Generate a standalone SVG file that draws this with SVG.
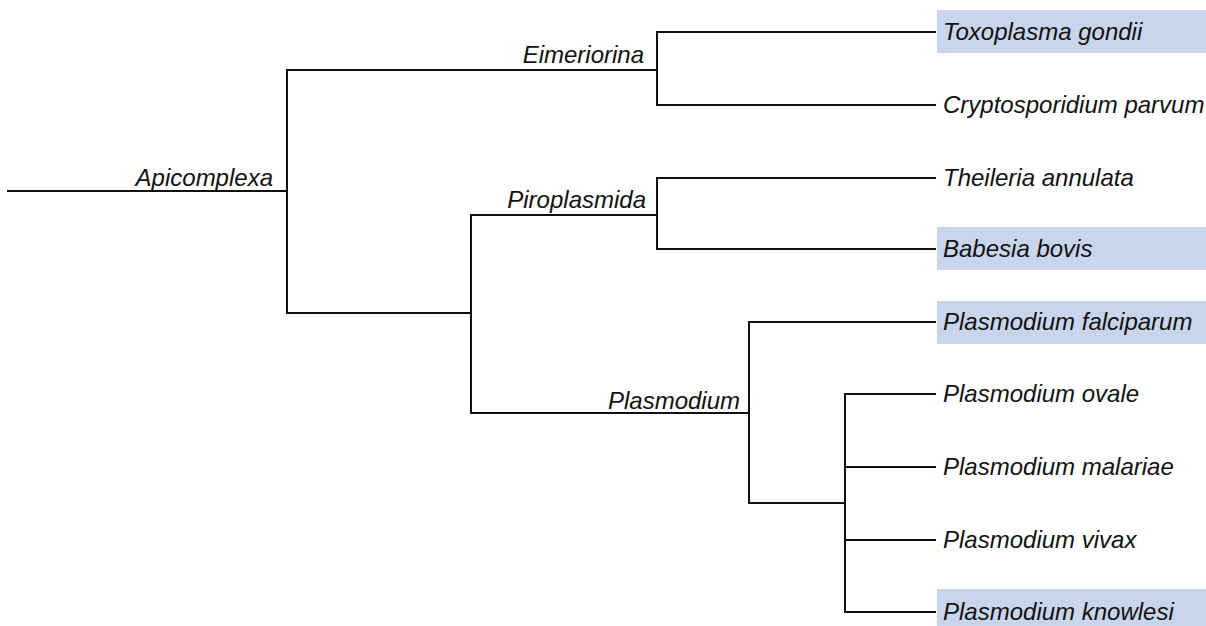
<svg xmlns="http://www.w3.org/2000/svg" width="1206" height="626" viewBox="0 0 1206 626">
<style>
.e{fill:none;stroke:#111;stroke-width:2;stroke-linecap:square}
.t{font-family:"Liberation Sans",Arial,sans-serif;font-style:italic;font-size:24px;fill:#111}
.r{text-anchor:end}
.hl{fill:#c9d5ec}
</style>
<rect width="1206" height="626" fill="#fff"/>
<g id="connectors">
<path class="e" d="M8,191H287M287,70V313M287,70H657M657,32V105M657,32H935M657,105H935"/>
<path class="e" d="M287,313H471M471,215V413M471,215H657M657,178V249M657,178H935M657,249H935"/>
<path class="e" d="M471,413H749M749,322V503M749,322H935M749,503H845M845,394V612M845,394H935M845,467H935M845,540H935M845,612H935"/>
</g>
<g id="n-apicomplexa"><text class="t r" x="273" y="186">Apicomplexa</text></g>
<g id="n-eimeriorina"><text class="t r" x="644" y="63">Eimeriorina</text></g>
<g id="n-piroplasmida"><text class="t r" x="646" y="208">Piroplasmida</text></g>
<g id="n-plasmodium"><text class="t r" x="740" y="409">Plasmodium</text></g>
<g id="leaf-toxoplasma"><rect class="hl" x="937" y="10" width="269" height="43"/><text class="t" x="943" y="40">Toxoplasma gondii</text></g>
<g id="leaf-cryptosporidium"><text class="t" x="943" y="113">Cryptosporidium parvum</text></g>
<g id="leaf-theileria"><text class="t" x="943" y="186">Theileria annulata</text></g>
<g id="leaf-babesia"><rect class="hl" x="937" y="227" width="269" height="43"/><text class="t" x="943" y="257">Babesia bovis</text></g>
<g id="leaf-falciparum"><rect class="hl" x="937" y="301" width="269" height="43"/><text class="t" x="943" y="330">Plasmodium falciparum</text></g>
<g id="leaf-ovale"><text class="t" x="943" y="402">Plasmodium ovale</text></g>
<g id="leaf-malariae"><text class="t" x="943" y="475">Plasmodium malariae</text></g>
<g id="leaf-vivax"><text class="t" x="943" y="548">Plasmodium vivax</text></g>
<g id="leaf-knowlesi"><rect class="hl" x="937" y="589" width="269" height="43"/><text class="t" x="943" y="620">Plasmodium knowlesi</text></g>
</svg>
